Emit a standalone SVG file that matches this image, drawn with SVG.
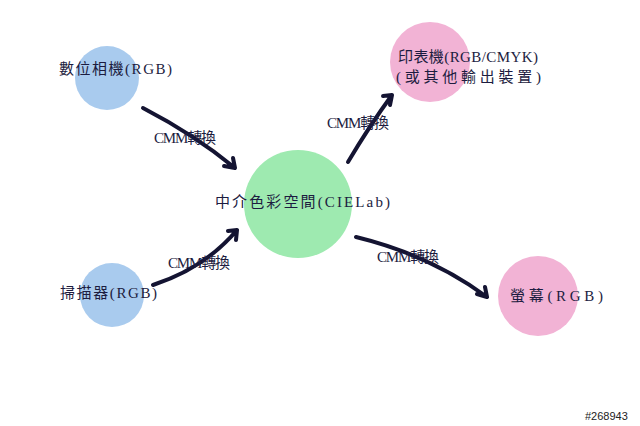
<svg xmlns="http://www.w3.org/2000/svg" width="640" height="426" viewBox="0 0 640 426">
<style>
.t{font-family:"Liberation Serif","Noto Sans CJK TC",serif;font-size:15px;fill:#1c1c40}
.a{fill:none;stroke:#141432;stroke-width:4;stroke-linecap:round;stroke-linejoin:round}
</style>
<rect width="640" height="426" fill="#fff"/>
<g id="camera"><circle cx="107" cy="78" r="32" fill="#a9cbee"/><text class="t" x="59" y="74" textLength="113">數位相機(RGB)</text></g>
<g id="scanner"><circle cx="112" cy="295" r="32" fill="#a9cbee"/><text class="t" x="60" y="298" textLength="97">掃描器(RGB)</text></g>
<g id="pcs"><circle cx="298" cy="204" r="54" fill="#9eeab0"/><text class="t" x="215" y="207" textLength="175">中介色彩空間(CIELab)</text></g>
<g id="printer"><circle cx="430" cy="62" r="40" fill="#f2b3d5"/><text class="t" x="398" y="62" textLength="140">印表機(RGB/CMYK)</text><text class="t" x="396" y="82" textLength="145">(或其他輸出裝置)</text></g>
<g id="monitor"><circle cx="538" cy="296" r="40" fill="#f2b3d5"/><text class="t" x="510" y="301" textLength="93">螢幕(RGB)</text></g>
<g id="connectors">
<path class="a" d="M143,108 Q195,135 235,168 M233,158 L235,168 L224,166"/>
<text class="t" x="154" y="143" textLength="62">CMM轉換</text>
<path class="a" d="M153,285 Q205,268 237,230 M228,231 L237,230 L236,240"/>
<text class="t" x="168" y="268" textLength="62">CMM轉換</text>
<path class="a" d="M348,162 Q370,125 392,95 M383,96 L392,95 L390,105"/>
<text class="t" x="327" y="128" textLength="62">CMM轉換</text>
<path class="a" d="M356,237 Q430,255 487,297 M477,294 L487,297 L485,287"/>
<text class="t" x="377" y="262" textLength="62">CMM轉換</text>
</g>
<text x="585" y="420" font-family="Liberation Sans,sans-serif" font-size="11" fill="#222">#268943</text>
</svg>
